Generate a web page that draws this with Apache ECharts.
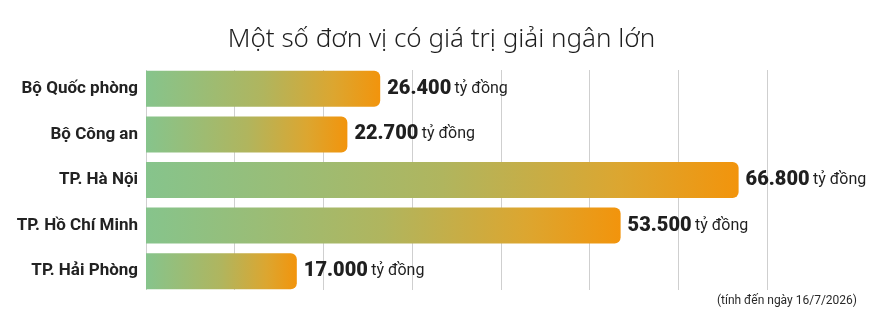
<!DOCTYPE html>
<html><head><meta charset="utf-8">
<script src="https://cdn.jsdelivr.net/npm/echarts@6/dist/echarts.min.js"></script>
<style>html,body{margin:0;padding:0;background:#fff}#c{width:883px;height:315px}</style>
</head><body><div id="c"></div>
<script>
const categories = ['Bộ Quốc phòng', 'Bộ Công an', 'TP. Hà Nội', 'TP. Hồ Chí Minh', 'TP. Hải Phòng'];
const values = [26400, 22700, 66800, 53500, 17000];
const valueLabels = ['26.400', '22.700', '66.800', '53.500', '17.000'];
const unit = 'tỷ đồng';
const titleText = 'Một số đơn vị có giá trị giải ngân lớn';
const noteText = '(tính đến ngày 16/7/2026)';

const cond = 'Roboto, "Liberation Sans", sans-serif';
const chart = echarts.init(document.getElementById('c'), null, {renderer: 'canvas'});
chart.setOption({
  backgroundColor: '#fff',
  animation: false,
  title: [{
    text: titleText, left: 'center', top: 22,
    textStyle: {fontFamily: '"Noto Sans", Lato, sans-serif', fontWeight: 300, fontSize: 26, color: '#1e1e1e'}
  }, {
    text: noteText, right: 21, top: 290,
    textStyle: {fontFamily: cond, fontWeight: 'normal', fontSize: 12, color: '#2a2a2a'}
  }],
  grid: [
    {left: 146, right: 116, top: 66, height: 228},
    {left: 146, right: 116, top: 70, height: 220}
  ],
  xAxis: [
    {gridIndex: 0, type: 'value', min: 0, max: 70000, interval: 10000, show: false},
    {gridIndex: 1, type: 'value', min: 0, max: 70000, interval: 10000,
     axisLine: {show: false}, axisTick: {show: false}, axisLabel: {show: false},
     splitLine: {show: true, lineStyle: {color: '#cfcfcf', width: 1}}}
  ],
  yAxis: [
    {gridIndex: 0, type: 'category', data: categories, inverse: true,
     axisLine: {show: false}, axisTick: {show: false},
     axisLabel: {margin: 8, fontFamily: cond, fontWeight: 'bold', fontSize: 17, color: '#222'}},
    {gridIndex: 1, type: 'category', data: categories, show: false}
  ],
  series: [{
    type: 'bar', xAxisIndex: 0, yAxisIndex: 0,
    data: values, barWidth: 36,
    itemStyle: {
      borderRadius: [0, 6, 6, 0],
      color: new echarts.graphic.LinearGradient(0, 0, 1, 0, [
        {offset: 0, color: '#86c48c'},
        {offset: 0.5, color: '#b0b55e'},
        {offset: 0.8, color: '#dca630'},
        {offset: 1, color: '#f2940c'}
      ])
    },
    label: {
      show: true, position: 'right', distance: 7,
      formatter: p => '{v|' + valueLabels[p.dataIndex] + '} {u|' + unit + '}',
      rich: {
        v: {fontFamily: cond, fontWeight: 900, fontSize: 20, color: '#1f1f1f'},
        u: {fontFamily: cond, fontWeight: 'normal', fontSize: 16, color: '#1f1f1f'}
      }
    }
  }]
});
</script></body></html>
